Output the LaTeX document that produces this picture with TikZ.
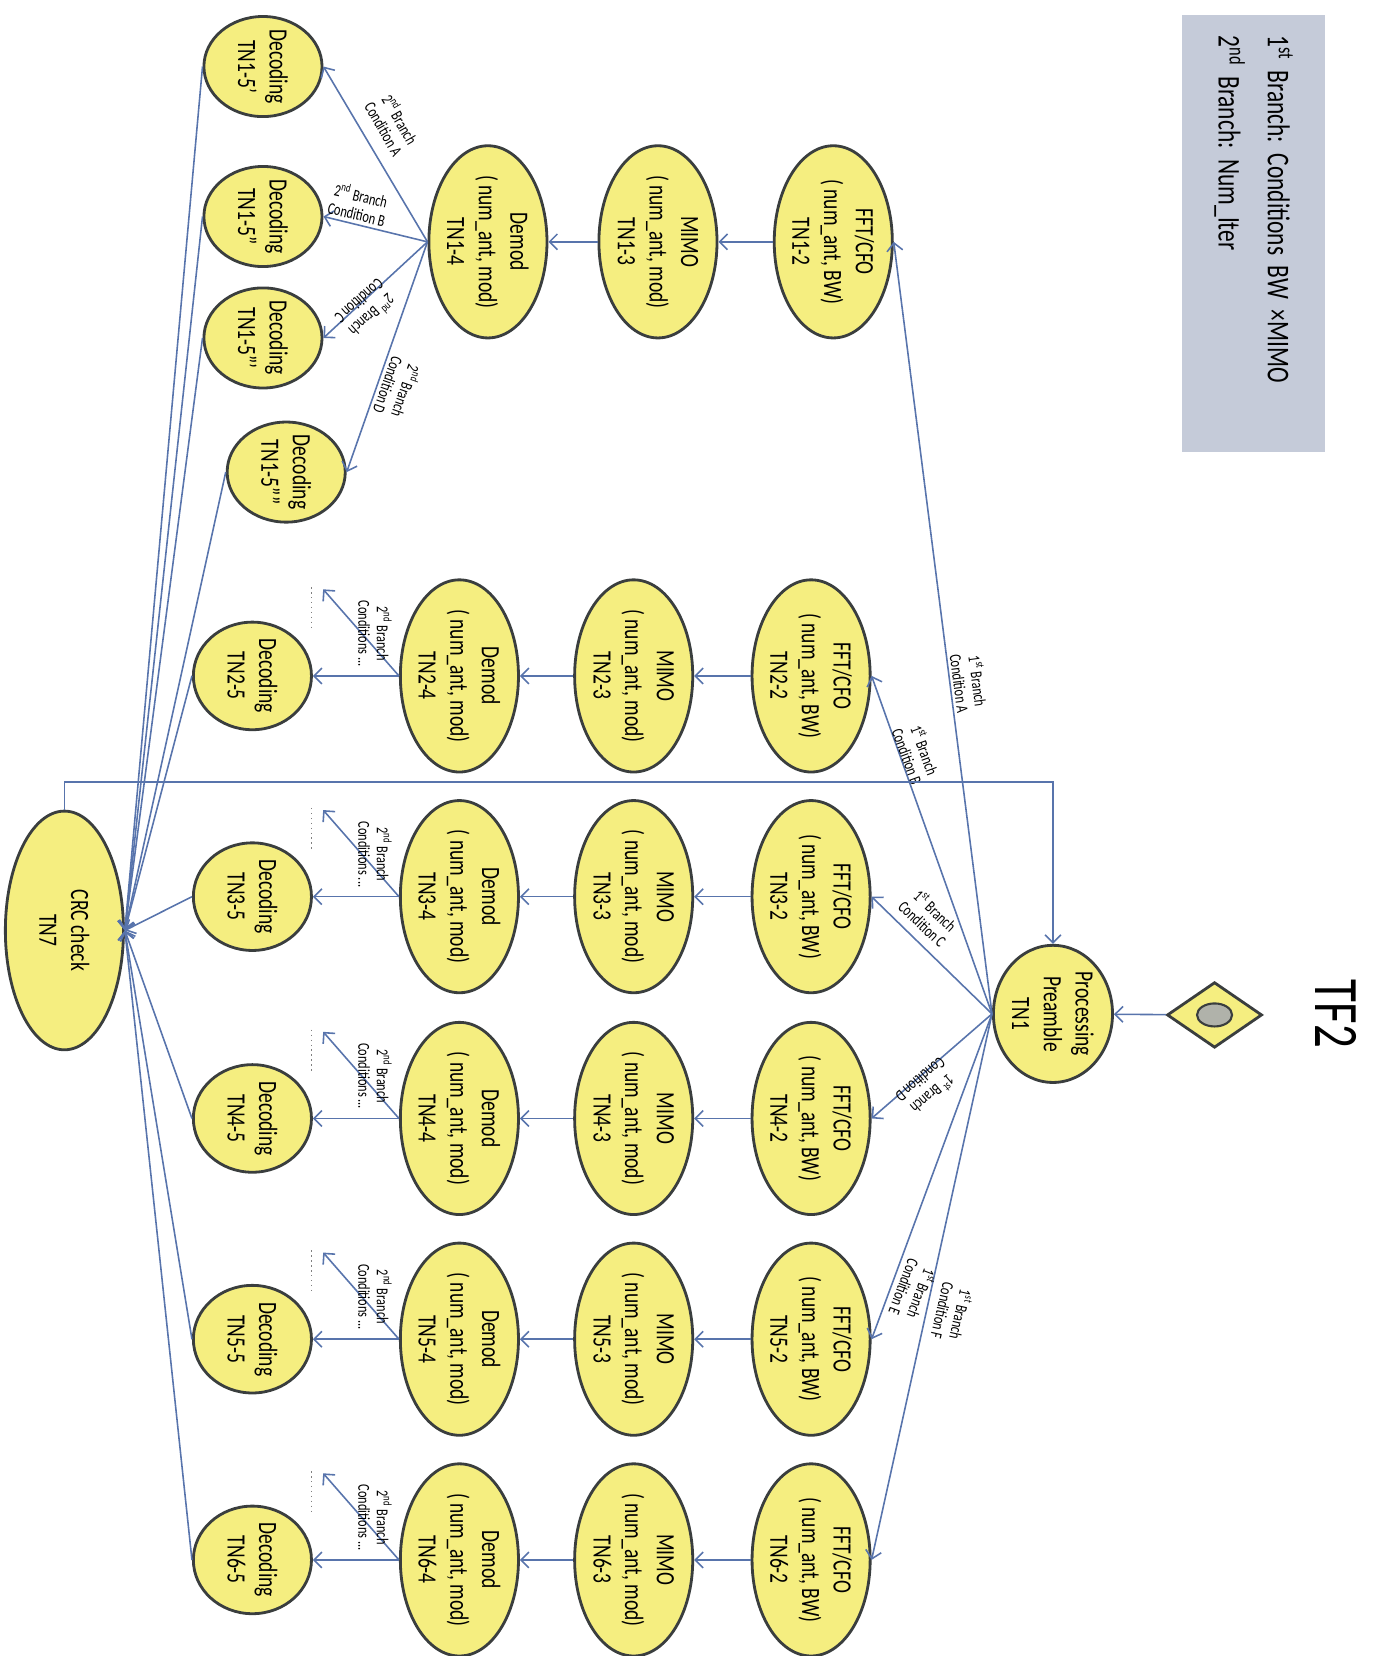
\documentclass[tikz,border=0pt]{standalone}
\usepackage{fontspec}
\setmainfont{Carlito}[FakeStretch=0.74]
\newfontfamily\legendfont{Carlito}[FakeStretch=0.74, WordSpace=0.8]
\frenchspacing
\usetikzlibrary{shapes.geometric, arrows.meta}

\definecolor{nodefill}{RGB}{245,238,128}
\definecolor{nodeline}{RGB}{58,62,62}
\definecolor{wirecol}{RGB}{88,116,172}
\definecolor{legendfill}{RGB}{197,203,217}
\definecolor{dotgray}{RGB}{176,178,170}

\tikzset{
  tn/.style={ellipse, draw=nodeline, line width=1.6pt, fill=nodefill, rotate=-90,
    inner sep=-4pt, align=center, font=\fontsize{15}{18}\selectfont},
  stage/.style={tn, minimum width=3.84cm, minimum height=2.36cm},
  decode/.style={tn, minimum width=2.15cm, minimum height=2.36cm},
  preamble/.style={tn, minimum width=2.74cm, minimum height=2.38cm},
  crcnode/.style={tn, minimum width=4.77cm, minimum height=2.36cm},
  wire/.style={draw=wirecol, line width=0.9pt, -{Straight Barb[length=4.5pt, width=9pt]}},
  brlabel/.style={font=\fontsize{9.5}{10.5}\selectfont, align=center, inner sep=0pt},
}

\begin{document}
\begin{tikzpicture}[x=0.0211cm, y=-0.0211cm]
	\useasboundingbox (0,0) rectangle (1301,1568);
	% Legend and title:
	\node[rotate=-90, fill=legendfill, minimum width=8.74cm, minimum height=2.87cm, text width=7.9cm,
	  align=left, inner sep=0pt, font=\legendfont\fontsize{18}{28}\selectfont] (legend) at (1187,221)
	  {1\textsuperscript{st} Branch: Conditions BW ×MIMO\\2\textsuperscript{nd} Branch: Num\_Iter};
	\node[rotate=-90, font=\fontsize{36}{40}\selectfont] (title) at (1265,960) {TF2};

	% Start and preamble:
	\node[diamond, draw=nodeline, line width=1.6pt, fill=nodefill, minimum width=1.9cm,
	  minimum height=1.31cm, inner sep=0pt] (start) at (1150,961) {};
	\node[ellipse, draw=nodeline, line width=1.2pt, fill=dotgray, minimum width=0.7cm,
	  minimum height=0.46cm, inner sep=0pt] (startdot) at (1150,961) {};
	\node[preamble] (proc) at (997,960) {Processing\\Preamble\\TN1};
	\node[crcnode] (crc) at (61,881) {CRC check\\TN7};

	% Row TN1:
	\node[stage] (fft1) at (789,229) {FFT/CFO\\( num\_ant, BW)\\TN1-2};
	\node[stage] (mimo1) at (623,229) {MIMO\\( num\_ant, mod)\\TN1-3};
	\node[stage] (dem1) at (462,229) {Demod\\( num\_ant, mod)\\TN1-4};
	\node[decode, minimum width=2cm] (dec1a) at (249,63) {Decoding\\TN1-5'};
	\node[decode, minimum width=2cm] (dec1b) at (249,205) {Decoding\\TN1-5''};
	\node[decode, minimum width=2cm] (dec1c) at (249,320) {Decoding\\TN1-5'''};
	\node[decode, minimum width=2cm] (dec1d) at (271,447) {Decoding\\TN1-5''''};

	\draw[wire] (fft1) -- (mimo1);
	\draw[wire] (mimo1) -- (dem1);
	\draw[wire] (dem1.south) -- (dec1a.north);
	\draw[wire] (dem1.south) -- (dec1b.north);
	\draw[wire] (dem1.south) -- (dec1c.north);
	\draw[wire] (dem1.south) -- (dec1d.north);
	\node[brlabel, rotate=-60] (lbl1a) at (372,117) {2\textsuperscript{nd} Branch\\Condition A};
	\node[brlabel, rotate=-13.6] (lbl1b) at (340,193) {2\textsuperscript{nd} Branch\\Condition B};
	\node[brlabel, rotate=-138.5] (lbl1c) at (347,293) {2\textsuperscript{nd} Branch\\Condition C};
	\node[brlabel, rotate=-109.3] (lbl1d) at (377,368) {2\textsuperscript{nd} Branch\\Condition D};

	% Rows TN2 to TN6:
	\foreach \r/\y in {2/640, 3/849, 4/1059, 5/1268, 6/1477} {
		\node[stage] (fft\r) at (768,\y) {FFT/CFO\\( num\_ant, BW)\\TN\r-2};
		\node[stage] (mimo\r) at (600,\y) {MIMO\\( num\_ant, mod)\\TN\r-3};
		\node[stage] (dem\r) at (435,\y) {Demod\\( num\_ant, mod)\\TN\r-4};
		\node[decode] (dec\r) at (239,\y) {Decoding\\TN\r-5};
		\coordinate (more\r) at (306,\y-82);
		\draw[wire] (fft\r) -- (mimo\r);
		\draw[wire] (mimo\r) -- (dem\r);
		\draw[wire] (dem\r) -- (dec\r);
		\draw[wire] (dem\r.south) -- (more\r);
		\draw[dotted, line width=0.8pt, gray] (295,\y-84) -- (295,\y-43);
		\node[brlabel, rotate=-90] (lbl\r) at (355,\y-40) {2\textsuperscript{nd} Branch\\Conditions ...};
	}

	% 1st branch from the preamble:
	\draw[wire] (start) -- (proc);
	\foreach \r in {1,...,6}
		\draw[wire] (proc.south) -- (fft\r.north);
	\node[brlabel, rotate=-82.6] (lblA) at (918,646) {1\textsuperscript{st} Branch\\Condition A};
	\node[brlabel, rotate=-69.9] (lblB) at (868,713) {1\textsuperscript{st} Branch\\Condition B};
	\node[brlabel, rotate=-43.5] (lblC) at (880,868) {1\textsuperscript{st} Branch\\Condition C};
	\node[brlabel, rotate=-139.8] (lblD) at (878,1030) {1\textsuperscript{st} Branch\\Condition D};
	\node[brlabel, rotate=-110.8] (lblE) at (865,1222) {1\textsuperscript{st} Branch\\Condition E};
	\node[brlabel, rotate=-102.8] (lblF) at (902,1243) {1\textsuperscript{st} Branch\\Condition F};

	% Decodings into the CRC check, and back to the preamble:
	\foreach \d in {dec1a, dec1b, dec1c, dec1d, dec2, dec3, dec4, dec5, dec6}
		\draw[wire] (\d.south) -- (crc.north);
	\draw[wire] (crc.west) -- ++(0,-26) -| (proc.west);
\end{tikzpicture}
\end{document}
